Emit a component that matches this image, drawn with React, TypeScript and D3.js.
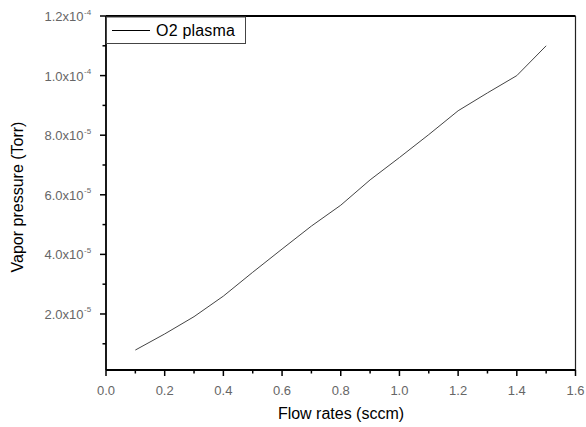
import React from "react";
import * as d3 from "d3";

const flowRates = [0.1, 0.2, 0.3, 0.4, 0.5, 0.6, 0.7, 0.8, 0.9, 1.0, 1.1, 1.2, 1.3, 1.4, 1.5];
const vaporPressure = [7.9e-6, 13.3e-6, 19.1e-6, 26e-6, 34e-6, 41.8e-6, 49.5e-6, 56.5e-6, 65e-6, 72.5e-6, 80.2e-6, 88.2e-6, 94.2e-6, 100e-6, 110e-6];
const xTicks = [0, 0.2, 0.4, 0.6, 0.8, 1.0, 1.2, 1.4, 1.6];
const xMinor = [0.1, 0.3, 0.5, 0.7, 0.9, 1.1, 1.3, 1.5];
const yTicks = [2e-5, 4e-5, 6e-5, 8e-5, 1e-4, 1.2e-4];
const yTickMant = ["2.0", "4.0", "6.0", "8.0", "1.0", "1.2"];
const yTickExp = ["-5", "-5", "-5", "-5", "-4", "-4"];
const yMinor = [1e-5, 3e-5, 5e-5, 7e-5, 9e-5, 1.1e-4];
const seriesName = "O2 plasma";

export default function App() {
  const W = 586, H = 427;
  const L = 106, R = 575.5, T = 16, B = 370;
  const x = d3.scaleLinear().domain([0, 1.6]).range([L, R]);
  const y = d3.scaleLinear().domain([1.2e-6, 1.2e-4]).range([B, T]);
  const line = d3.line<number>().x((_, i) => x(flowRates[i])).y((d) => y(d));
  const font = "'Liberation Sans', Arial, sans-serif";
  return (
    <svg width={W} height={H} style={{ position: "absolute", left: 0, top: 0, background: "#fff" }}>
      <rect x={0} y={0} width={W} height={H} fill="#fff" />
      {/* frame */}
      <line x1={L} y1={T} x2={R} y2={T} stroke="#000" strokeWidth={2} />
      <line x1={R} y1={T} x2={R} y2={B} stroke="#222" strokeWidth={1.2} />
      <line x1={L} y1={T} x2={L} y2={B} stroke="#000" strokeWidth={1.8} />
      <line x1={L} y1={B} x2={R} y2={B} stroke="#000" strokeWidth={1.8} />
      {/* x ticks */}
      {xTicks.map((t) => (
        <g key={"xt" + t}>
          <line x1={x(t)} x2={x(t)} y1={B} y2={B + 6} stroke="#000" strokeWidth={1.5} />
          <text x={x(t)} y={395} textAnchor="middle" fontFamily={font} fontSize={13} fill="#666">
            {t.toFixed(1)}
          </text>
        </g>
      ))}
      {xMinor.map((t) => (
        <line key={"xm" + t} x1={x(t)} x2={x(t)} y1={B} y2={B + 3.5} stroke="#000" strokeWidth={1.5} />
      ))}
      {/* y ticks */}
      {yTicks.map((t, i) => (
        <g key={"yt" + t}>
          <line x1={L - 6} x2={L} y1={y(t)} y2={y(t)} stroke="#000" strokeWidth={1.5} />
          <text x={83.5} y={y(t) + 5} textAnchor="end" fontFamily={font} fontSize={13} fill="#666">
            {yTickMant[i]}x10
          </text>
          <text x={84} y={y(t) - 1.5} fontFamily={font} fontSize={8} fill="#666">
            {yTickExp[i]}
          </text>
        </g>
      ))}
      {yMinor.map((t) => (
        <line key={"ym" + t} x1={L - 3.5} x2={L} y1={y(t)} y2={y(t)} stroke="#000" strokeWidth={1.5} />
      ))}
      {/* data line */}
      <path d={line(vaporPressure) || ""} fill="none" stroke="#444" strokeWidth={1} />
      {/* legend */}
      <rect x={106.5} y={17} width={139} height={26.5} fill="#fff" stroke="#444" strokeWidth={1} />
      <line x1={112} x2={150} y1={30.5} y2={30.5} stroke="#000" strokeWidth={1} />
      <text x={156} y={36} fontFamily={font} fontSize={16} letterSpacing={0.2} fill="#000">
        {seriesName}
      </text>
      {/* axis titles */}
      <text x={341} y={419} textAnchor="middle" fontFamily={font} fontSize={16} fill="#000">
        Flow rates (sccm)
      </text>
      <text
        transform={`translate(23,197) rotate(-90)`}
        textAnchor="middle"
        fontFamily={font}
        fontSize={16}
        fill="#000"
      >
        Vapor pressure (Torr)
      </text>
    </svg>
  );
}
